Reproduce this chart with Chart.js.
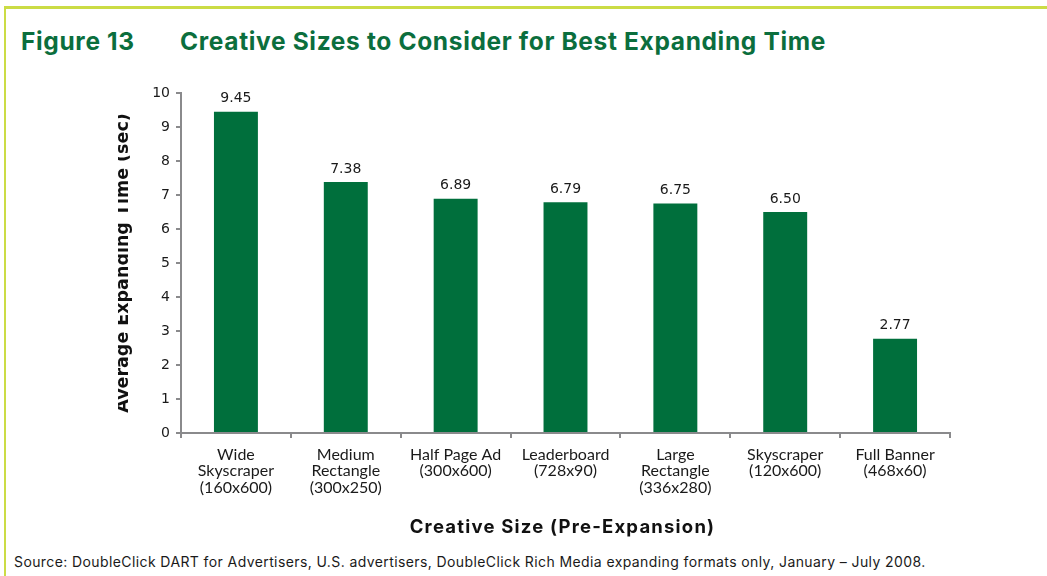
<!DOCTYPE html>
<html>
<head>
<meta charset="utf-8">
<script src="https://cdn.jsdelivr.net/npm/chart.js@4/dist/chart.umd.min.js"></script>
<style>
  html, body { margin: 0; padding: 0; background: #fff; }
  body { width: 1047px; height: 576px; position: relative; overflow: hidden; }
  .frame {
    position: absolute; left: 4px; top: 6px; width: 1100px; height: 600px;
    border-top: 3px solid #cbdc45; border-left: 2px solid #cbdc45;
  }
  .head {
    position: absolute; top: 29px; font-family: Inter, sans-serif; font-weight: 700;
    font-size: 24.5px; line-height: 24px; letter-spacing: 0.65px; color: #0b6e3d; white-space: nowrap;
  }
  .src {
    position: absolute; left: 14px; top: 554px; font-family: Inter, sans-serif;
    font-size: 14px; line-height: 15px; letter-spacing: 0.4px; color: #1a1a1a; white-space: nowrap;
  }
  #wrap { position: absolute; left: 100px; top: 75px; width: 870px; height: 465px; }
</style>
</head>
<body>
<div class="frame"></div>
<div class="head" style="left:21px">Figure 13</div>
<div class="head" style="left:180px">Creative Sizes to Consider for Best Expanding Time</div>
<div id="wrap"><canvas id="canvas"></canvas></div>
<div class="src">Source: DoubleClick DART for Advertisers, U.S. advertisers, DoubleClick Rich Media expanding formats only, January – July 2008.</div>

<script>
var labels = [
  ['Wide', 'Skyscraper', '(160x600)'],
  ['Medium', 'Rectangle', '(300x250)'],
  ['Half Page Ad', '(300x600)'],
  ['Leaderboard', '(728x90)'],
  ['Large', 'Rectangle', '(336x280)'],
  ['Skyscraper', '(120x600)'],
  ['Full Banner', '(468x60)']
];
var times = [9.45, 7.38, 6.89, 6.79, 6.75, 6.50, 2.77];
var yTicks = [0, 1, 2, 3, 4, 5, 6, 7, 8, 9, 10];
var xTitle = 'Creative Size (Pre-Expansion)';
var yTitleText = 'Average Expanding Time (sec)';

var axisGrey = '#8a8a8c';

// numbers above each bar
var barValues = {
  id: 'barValues',
  afterDatasetsDraw: function(chart) {
    var ctx = chart.ctx;
    var meta = chart.getDatasetMeta(0);
    ctx.save();
    ctx.font = '14px "DejaVu Sans"';
    ctx.fillStyle = '#1a1a1a';
    ctx.textAlign = 'center';
    ctx.textBaseline = 'bottom';
    meta.data.forEach(function(bar, i) {
      ctx.fillText(times[i].toFixed(2), bar.x, bar.y - 6);
    });
    ctx.restore();
  }
};

// both axis titles; the rotated one is cut off on its left side
var axisTitles = {
  id: 'axisTitles',
  afterDraw: function(chart) {
    var ctx = chart.ctx;
    var area = chart.chartArea;

    ctx.save();
    ctx.font = 'bold 18.5px Inter';
    ctx.letterSpacing = '1.2px';
    ctx.fillStyle = '#111';
    ctx.textAlign = 'center';
    ctx.textBaseline = 'middle';
    ctx.fillText(xTitle, (area.left + area.right) / 2 - 3, area.bottom + 94);
    ctx.restore();

    ctx.save();
    ctx.beginPath();
    ctx.rect(18, 0, 200, chart.height);
    ctx.clip();
    ctx.translate(28, (area.top + area.bottom) / 2);
    ctx.rotate(-Math.PI / 2);
    ctx.font = 'bold 17.5px "DejaVu Sans"';
    ctx.fillStyle = '#111';
    ctx.textAlign = 'center';
    ctx.textBaseline = 'alphabetic';
    ctx.fillText(yTitleText, 0, 0);
    ctx.restore();
  }
};

new Chart(document.getElementById('canvas'), {
  type: 'bar',
  data: {
    labels: labels,
    datasets: [{
      data: times,
      backgroundColor: '#006f3c',
      barPercentage: 0.4,
      categoryPercentage: 1
    }]
  },
  options: {
    responsive: true,
    maintainAspectRatio: false,
    animation: false,
    layout: { padding: { top: 18, right: 20, left: 0, bottom: 0 } },
    plugins: { legend: { display: false }, tooltip: { enabled: false } },
    scales: {
      x: {
        afterFit: function(s) { s.height = 107; },
        grid: { offset: true, drawOnChartArea: false, color: axisGrey, lineWidth: 2, tickLength: 5 },
        border: { color: axisGrey, width: 2 },
        ticks: { color: '#1a1a1a', padding: 8, maxRotation: 0, autoSkip: false,
                 font: { family: 'Lato', size: 16, lineHeight: 1.045 } }
      },
      y: {
        min: 0, max: 10,
        afterFit: function(s) { s.width = 81; },
        afterBuildTicks: function(s) { s.ticks = yTicks.map(function(v) { return { value: v }; }); },
        grid: { drawOnChartArea: false, color: axisGrey, lineWidth: 2, tickLength: 5 },
        border: { color: axisGrey, width: 2 },
        ticks: { color: '#1a1a1a', padding: 6, font: { family: 'DejaVu Sans', size: 14 } }
      }
    }
  },
  plugins: [barValues, axisTitles]
});
</script>
</body>
</html>
